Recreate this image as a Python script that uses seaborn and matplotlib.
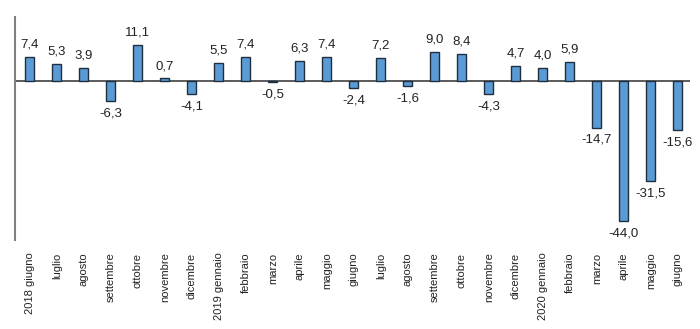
import matplotlib
matplotlib.use("Agg")
import matplotlib.pyplot as plt
import seaborn as sns
import pandas as pd
import numpy as np

labels = ["2018 giugno", "luglio", "agosto", "settembre", "ottobre", "novembre", "dicembre",
          "2019 gennaio", "febbraio", "marzo", "aprile", "maggio", "giugno", "luglio", "agosto",
          "settembre", "ottobre", "novembre", "dicembre", "2020 gennaio", "febbraio", "marzo",
          "aprile", "maggio", "giugno"]
values = [7.4, 5.3, 3.9, -6.3, 11.1, 0.7, -4.1, 5.5, 7.4, -0.5, 6.3, 7.4, -2.4, 7.2, -1.6,
          9.0, 8.4, -4.3, 4.7, 4.0, 5.9, -14.7, -44.0, -31.5, -15.6]

sns.set_theme(style="white")
plt.rcParams['font.family'] = ['Liberation Sans Narrow', 'Liberation Sans', 'DejaVu Sans']

df = pd.DataFrame({"idx": [str(i) for i in range(len(values))], "val": values})

fig = plt.figure(figsize=(7.0, 3.29), dpi=100)
ax = fig.add_axes([15/700, 1-240/329, 675/700, 223/329])
sns.barplot(data=df, x="idx", y="val", ax=ax, color="#5b9bd5", width=0.33,
            edgecolor="#1f2f3f", linewidth=1.0, saturation=1)

ax.set_ylim(-50, 20)
ax.set_xlim(-0.55, 24.45)
ax.axhline(0, color="#404040", lw=1.2, zorder=0.5)
for s in ["top", "right", "bottom"]:
    ax.spines[s].set_visible(False)
ax.spines["left"].set_color("#808080")
ax.spines["left"].set_linewidth(1.5)
ax.set_yticks([])
ax.set_xlabel("")
ax.set_ylabel("")
ax.set_xticks(range(len(labels)))
ax.set_xticklabels(labels, rotation=90, fontsize=8, color="#222222", va="top")
ax.tick_params(axis="x", length=0, pad=9)

for i, v in enumerate(values):
    txt = f"{v:.1f}".replace(".", ",")
    if v >= 0:
        ax.text(i, v + 2.0, txt, ha="center", va="bottom", fontsize=9.5, color="#222222")
    else:
        ax.text(i, v - 2.0, txt, ha="center", va="top", fontsize=9.5, color="#222222")

fig.savefig("out.png", dpi=100)
